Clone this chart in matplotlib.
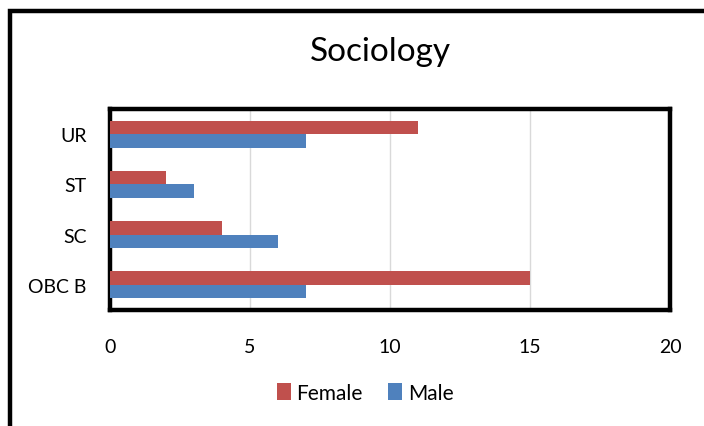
import matplotlib
matplotlib.use("Agg")
import matplotlib.pyplot as plt
import matplotlib.patches as mpatches
import numpy as np

plt.rcParams['font.family'] = ['Lato', 'DejaVu Sans']

categories = ["OBC B", "SC", "ST", "UR"]
female = [15, 4, 2, 11]
male = [7, 6, 3, 7]
xticks = [0, 5, 10, 15, 20]

W, H = 704, 427
fig = plt.figure(figsize=(W/100, H/100), dpi=100)
ax = fig.add_axes([110/W, 1-311/H, 560/W, 201/H])

y = np.arange(len(categories))
h = 0.27
ax.barh(y + h/2, female, height=h, color="#C0504D", label="Female", zorder=3)
ax.barh(y - h/2, male, height=h, color="#4F81BD", label="Male", zorder=3)

ax.set_xlim(0, 20)
ax.set_ylim(-0.5, len(categories) - 0.5)
ax.set_xticks(xticks)
ax.set_xticklabels([str(t) for t in xticks], fontsize=14)
ax.set_yticks(y)
ax.set_yticklabels(categories, fontsize=14)
ax.tick_params(length=0)
ax.tick_params(axis='x', pad=20)
ax.tick_params(axis='y', pad=17)
ax.xaxis.grid(True, color="#D9D9D9", linewidth=1, zorder=0)
ax.set_axisbelow(True)
for s in ax.spines.values():
    s.set_linewidth(3.2)
    s.set_color("black")

fig.text(380/W, 1-52/H, "Sociology", ha="center", va="center", fontsize=24)

leg = fig.legend(loc="center", bbox_to_anchor=(365/W, 1-394/H), ncol=2, frameon=False,
                 fontsize=15, handlelength=0.7, handleheight=0.9, handletextpad=0.25,
                 columnspacing=1.2)

rect = mpatches.Rectangle((10/W, -0.2), 1.2, 1.2 - 12/H + 0.0, transform=fig.transFigure,
                          fill=False, edgecolor="black", linewidth=3.2, clip_on=False)
fig.patches.append(rect)

fig.savefig("out.png", dpi=100)
